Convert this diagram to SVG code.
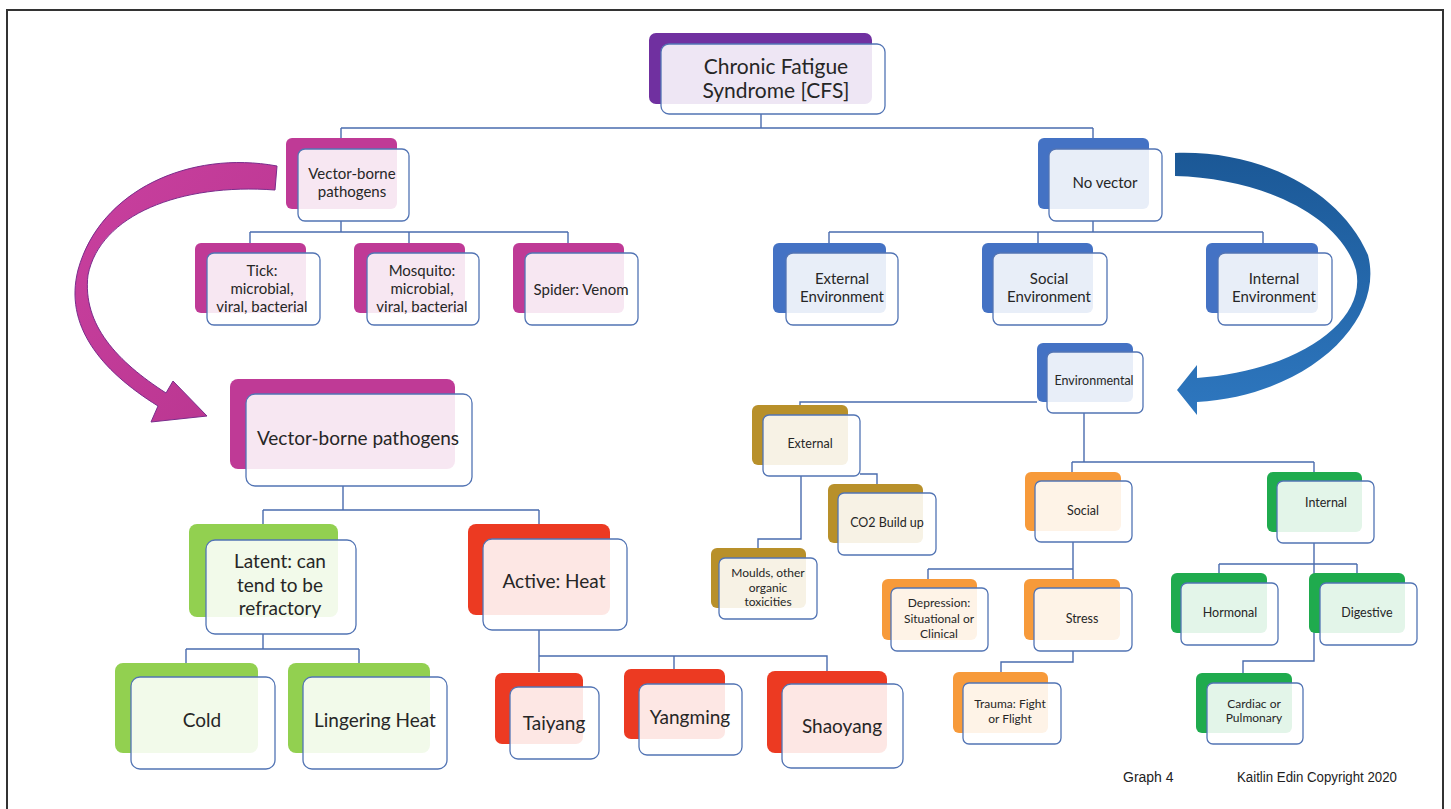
<svg xmlns="http://www.w3.org/2000/svg" width="1451" height="809" viewBox="0 0 1451 809">
<defs>
<linearGradient id="gPur" x1="0" y1="0" x2="1" y2="1">
<stop offset="0" stop-color="#c9409f"/><stop offset="1" stop-color="#b8358f"/>
</linearGradient>
<linearGradient id="gBlu" x1="0" y1="0" x2="0" y2="1">
<stop offset="0" stop-color="#1b5896"/><stop offset="1" stop-color="#2e77bf"/>
</linearGradient>
</defs>
<style>
.frame{fill:none;stroke:#333;stroke-width:2}
.con{fill:none;stroke:#4a6cae;stroke-width:1.4}
.fr{fill:#fff;fill-opacity:.88;stroke:#5274b4;stroke-width:1.3}
.pur{fill:#7030a0}.mag{fill:#bf3a96}.blu{fill:#4472c4}.gld{fill:#b8902a}
.org{fill:#f79a3a}.grn{fill:#1fab4e}.lgr{fill:#92d050}.red{fill:#ec3a22}
text{font-family:Lato,"Open Sans","Noto Sans",sans-serif;fill:#262626;text-anchor:middle}
.f22{font-size:21px}.f19{font-size:19px}.f15{font-size:15px}.f13{font-size:12.5px}.f12{font-size:12px}
.foot{font-family:"Liberation Sans",Arial,sans-serif;font-size:14px;text-anchor:start;fill:#222}
</style>
<rect class="frame" x="7" y="10" width="1436" height="810"/>

<g id="connectors">
<path class="con" d="M761,114V128M341,128H1093M341,128V138M1093,128V138"/>
<path class="con" d="M341,221V232M250,232H568M250,232V243M409,232V243M568,232V243"/>
<path class="con" d="M1093,221V232M829,232H1263M829,232V243M1038,232V243M1263,232V243"/>
<path class="con" d="M1037,402H800V405M1084,413V462M1072,462H1314M1072,462V472M1314,462V472"/>
<path class="con" d="M801,476V539H758V548M860,474H877V484"/>
<path class="con" d="M1073,542V580M928,569H1073M928,569V579"/>
<path class="con" d="M1073,651V662H1001V672"/>
<path class="con" d="M1314,543V661H1243V673M1219,564H1357M1219,564V573M1357,564V573"/>
<path class="con" d="M343,486V510M263,510H539M263,510V524M539,510V524"/>
<path class="con" d="M263,634V649M186,649H359M186,649V663M359,649V663"/>
<path class="con" d="M539,630V672M539,656H827V671M674,656V669"/>
</g>

<g id="arrow-purple">
<path d="M277,166 C190,150 100,190 78,270 C64,325 100,370 158,406 L151,422 L207,416 L173,381 L166,393 C118,362 82,325 88,275 C100,215 180,183 275,190 Z" fill="url(#gPur)" stroke="#7a2c8c" stroke-width="1"/>
</g>
<g id="arrow-blue">
<path d="M1175,153 C1260,150 1340,190 1368,255 C1385,320 1310,395 1197,402 L1197,415 L1177,390 L1197,365 L1197,378 C1290,372 1368,325 1356,270 C1340,215 1260,178 1175,176 Z" fill="url(#gBlu)"/>
</g>

<g id="n-title"><rect class="pur" x="649" y="33" width="223" height="71" rx="7"/><rect class="fr" x="661" y="44" width="224" height="70" rx="8"/>
<text class="f22" x="776" y="74">Chronic Fatigue</text><text class="f22" x="776" y="98">Syndrome [CFS]</text></g>

<g id="n-vb1"><rect class="mag" x="286" y="138" width="111" height="71" rx="6"/><rect class="fr" x="298" y="149" width="111" height="72" rx="7"/>
<text class="f15" x="352" y="179">Vector-borne</text><text class="f15" x="352" y="197">pathogens</text></g>
<g id="n-tick"><rect class="mag" x="195" y="243" width="111" height="70" rx="6"/><rect class="fr" x="207" y="253" width="113" height="72" rx="7"/>
<text class="f15" x="262" y="276">Tick:</text><text class="f15" x="262" y="294">microbial,</text><text class="f15" x="262" y="312">viral, bacterial</text></g>
<g id="n-mosq"><rect class="mag" x="354" y="243" width="111" height="70" rx="6"/><rect class="fr" x="367" y="253" width="112" height="72" rx="7"/>
<text class="f15" x="422" y="276">Mosquito:</text><text class="f15" x="422" y="294">microbial,</text><text class="f15" x="422" y="312">viral, bacterial</text></g>
<g id="n-spider"><rect class="mag" x="513" y="243" width="111" height="70" rx="6"/><rect class="fr" x="525" y="253" width="113" height="72" rx="7"/>
<text class="f15" x="581" y="295">Spider: Venom</text></g>

<g id="n-novec"><rect class="blu" x="1038" y="138" width="111" height="71" rx="6"/><rect class="fr" x="1049" y="149" width="113" height="72" rx="7"/>
<text class="f15" x="1105" y="188">No vector</text></g>
<g id="n-extenv"><rect class="blu" x="773" y="243" width="113" height="70" rx="6"/><rect class="fr" x="786" y="253" width="112" height="72" rx="7"/>
<text class="f15" x="842" y="284">External</text><text class="f15" x="842" y="302">Environment</text></g>
<g id="n-socenv"><rect class="blu" x="982" y="243" width="111" height="70" rx="6"/><rect class="fr" x="993" y="253" width="114" height="72" rx="7"/>
<text class="f15" x="1049" y="284">Social</text><text class="f15" x="1049" y="302">Environment</text></g>
<g id="n-intenv"><rect class="blu" x="1206" y="243" width="112" height="70" rx="6"/><rect class="fr" x="1218" y="253" width="114" height="72" rx="7"/>
<text class="f15" x="1274" y="284">Internal</text><text class="f15" x="1274" y="302">Environment</text></g>

<g id="n-envl"><rect class="blu" x="1037" y="343" width="96" height="59" rx="6"/><rect class="fr" x="1047" y="352" width="96" height="61" rx="6"/>
<text class="f13" x="1094" y="385">Environmental</text></g>
<g id="n-ext"><rect class="gld" x="752" y="405" width="96" height="60" rx="6"/><rect class="fr" x="763" y="415" width="97" height="61" rx="6"/>
<text class="f13" x="810" y="448">External</text></g>
<g id="n-co2"><rect class="gld" x="828" y="484" width="95" height="59" rx="6"/><rect class="fr" x="838" y="493" width="98" height="62" rx="6"/>
<text class="f13" x="887" y="527">CO2 Build up</text></g>
<g id="n-moulds"><rect class="gld" x="711" y="548" width="95" height="60" rx="6"/><rect class="fr" x="719" y="558" width="98" height="61" rx="6"/>
<text class="f12" x="768" y="577">Moulds, other</text><text class="f12" x="768" y="592">organic</text><text class="f12" x="768" y="606">toxicities</text></g>

<g id="n-social"><rect class="org" x="1025" y="472" width="96" height="59" rx="6"/><rect class="fr" x="1035" y="481" width="97" height="61" rx="6"/>
<text class="f13" x="1083" y="515">Social</text></g>
<g id="n-depr"><rect class="org" x="882" y="579" width="95" height="61" rx="6"/><rect class="fr" x="891" y="588" width="97" height="63" rx="6"/>
<text class="f12" x="939" y="607">Depression:</text><text class="f12" x="939" y="623">Situational or</text><text class="f12" x="939" y="638">Clinical</text></g>
<g id="n-stress"><rect class="org" x="1024" y="579" width="96" height="61" rx="6"/><rect class="fr" x="1034" y="588" width="98" height="63" rx="6"/>
<text class="f13" x="1082" y="623">Stress</text></g>
<g id="n-trauma"><rect class="org" x="953" y="672" width="95" height="61" rx="6"/><rect class="fr" x="963" y="683" width="98" height="61" rx="6"/>
<text class="f12" x="1010" y="708">Trauma: Fight</text><text class="f12" x="1010" y="723">or Flight</text></g>

<g id="n-internal"><rect class="grn" x="1267" y="472" width="95" height="60" rx="6"/><rect class="fr" x="1277" y="481" width="97" height="62" rx="6"/>
<text class="f13" x="1326" y="507">Internal</text></g>
<g id="n-horm"><rect class="grn" x="1171" y="573" width="96" height="60" rx="6"/><rect class="fr" x="1181" y="583" width="97" height="62" rx="6"/>
<text class="f13" x="1230" y="617">Hormonal</text></g>
<g id="n-dig"><rect class="grn" x="1309" y="573" width="96" height="60" rx="6"/><rect class="fr" x="1320" y="583" width="97" height="62" rx="6"/>
<text class="f13" x="1367" y="617">Digestive</text></g>
<g id="n-card"><rect class="grn" x="1196" y="673" width="96" height="60" rx="6"/><rect class="fr" x="1207" y="683" width="96" height="61" rx="6"/>
<text class="f12" x="1254" y="708">Cardiac or</text><text class="f12" x="1254" y="722">Pulmonary</text></g>

<g id="n-vb2"><rect class="mag" x="230" y="379" width="225" height="90" rx="8"/><rect class="fr" x="246" y="394" width="226" height="92" rx="9"/>
<text class="f19" x="358" y="445">Vector-borne pathogens</text></g>
<g id="n-latent"><rect class="lgr" x="189" y="524" width="149" height="93" rx="8"/><rect class="fr" x="206" y="540" width="150" height="94" rx="9"/>
<text class="f19" x="280" y="568">Latent: can</text><text class="f19" x="280" y="592">tend to be</text><text class="f19" x="280" y="615">refractory</text></g>
<g id="n-cold"><rect class="lgr" x="115" y="663" width="143" height="90" rx="8"/><rect class="fr" x="131" y="677" width="144" height="92" rx="9"/>
<text class="f19" x="202" y="727">Cold</text></g>
<g id="n-ling"><rect class="lgr" x="288" y="663" width="142" height="90" rx="8"/><rect class="fr" x="303" y="677" width="144" height="92" rx="9"/>
<text class="f19" x="375" y="727">Lingering Heat</text></g>
<g id="n-active"><rect class="red" x="468" y="524" width="142" height="91" rx="8"/><rect class="fr" x="483" y="539" width="144" height="91" rx="9"/>
<text class="f19" x="554" y="588">Active: Heat</text></g>
<g id="n-taiyang"><rect class="red" x="495" y="673" width="88" height="71" rx="7"/><rect class="fr" x="510" y="687" width="89" height="72" rx="8"/>
<text class="f19" x="554" y="730">Taiyang</text></g>
<g id="n-yangming"><rect class="red" x="624" y="669" width="101" height="70" rx="7"/><rect class="fr" x="639" y="684" width="103" height="71" rx="8"/>
<text class="f19" x="690" y="724">Yangming</text></g>
<g id="n-shaoyang"><rect class="red" x="767" y="671" width="120" height="82" rx="8"/><rect class="fr" x="782" y="684" width="121" height="84" rx="9"/>
<text class="f19" x="842" y="733">Shaoyang</text></g>

<text class="foot" x="1123" y="782">Graph 4</text>
<text class="foot" x="1237" y="782" textLength="160" lengthAdjust="spacingAndGlyphs">Kaitlin Edin Copyright 2020</text>
</svg>
